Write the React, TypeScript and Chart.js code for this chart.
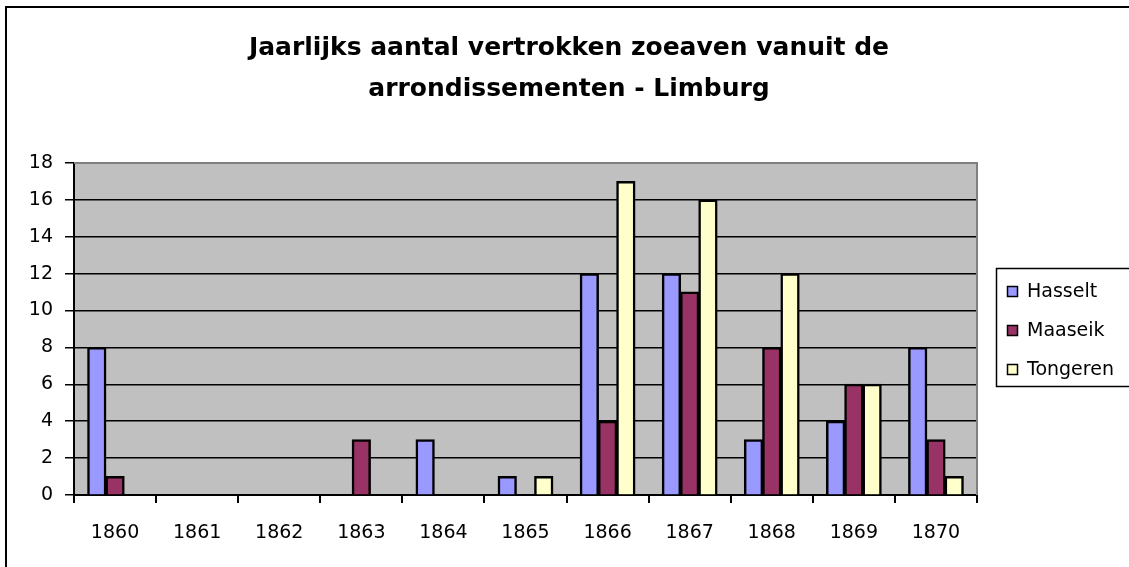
import { useEffect, useRef } from 'react';
import { Chart, registerables } from 'chart.js';

Chart.register(...registerables);

const years = ['1860', '1861', '1862', '1863', '1864', '1865', '1866', '1867', '1868', '1869', '1870'];
const hasselt = [8, 0, 0, 0, 3, 1, 12, 12, 3, 4, 8];
const maaseik = [1, 0, 0, 3, 0, 0, 4, 11, 8, 6, 3];
const tongeren = [0, 0, 0, 0, 0, 1, 17, 16, 12, 6, 1];
const seriesNames = ['Hasselt', 'Maaseik', 'Tongeren'];
const seriesColors = ['#9999FF', '#993366', '#FFFFCC'];
const titleLines = ['Jaarlijks aantal vertrokken zoeaven vanuit de', 'arrondissementen - Limburg'];
const yMin = 0;
const yMax = 18;
const yStep = 2;

const FONT = 'DejaVu Sans';

const decorPlugin = {
  id: 'decor',
  beforeDraw(chart: any) {
    const { ctx, chartArea } = chart;
    ctx.save();
    ctx.fillStyle = '#FFFFFF';
    ctx.fillRect(0, 0, chart.width, chart.height);
    ctx.fillStyle = '#C0C0C0';
    ctx.fillRect(chartArea.left, chartArea.top, chartArea.right - chartArea.left, chartArea.bottom - chartArea.top);
    // outer chart frame
    ctx.strokeStyle = '#000000';
    ctx.lineWidth = 2;
    ctx.beginPath();
    ctx.moveTo(6, chart.height + 5);
    ctx.lineTo(6, 7);
    ctx.lineTo(chart.width + 5, 7);
    ctx.stroke();
    // title
    ctx.fillStyle = '#000000';
    ctx.font = `bold 25px "${FONT}"`;
    ctx.textAlign = 'center';
    ctx.textBaseline = 'middle';
    ctx.fillText(titleLines[0], 569, 48);
    ctx.fillText(titleLines[1], 569, 89);
    ctx.restore();
  },
  beforeDatasetsDraw(chart: any) {
    const { ctx, chartArea } = chart;
    ctx.save();
    ctx.strokeStyle = '#808080';
    ctx.lineWidth = 2;
    ctx.beginPath();
    ctx.moveTo(chartArea.left, chartArea.top);
    ctx.lineTo(chartArea.right, chartArea.top);
    ctx.lineTo(chartArea.right, chartArea.bottom);
    ctx.stroke();
    ctx.restore();
  },
  afterDraw(chart: any) {
    const { ctx } = chart;
    ctx.save();
    // legend box
    ctx.strokeStyle = '#000000';
    ctx.lineWidth = 1.5;
    ctx.strokeRect(996.5, 268.5, 200, 118);
    ctx.font = `19px "${FONT}"`;
    ctx.textAlign = 'left';
    ctx.textBaseline = 'middle';
    const ys = [291, 330, 369];
    chart.data.datasets.forEach((ds: any, i: number) => {
      const y = ys[i];
      ctx.fillStyle = ds.backgroundColor;
      ctx.fillRect(1007, y - 5, 10, 10);
      ctx.strokeStyle = '#000000';
      ctx.lineWidth = 1.5;
      ctx.strokeRect(1007.5, y - 4.5, 10, 10);
      ctx.fillStyle = '#000000';
      ctx.fillText(ds.label, 1027, y + 1);
    });
    ctx.restore();
  },
};

export default function App() {
  const ref = useRef<HTMLCanvasElement | null>(null);
  useEffect(() => {
    if (!ref.current) return;
    const datasets = [hasselt, maaseik, tongeren].map((d, i) => ({
      label: seriesNames[i],
      data: d,
      backgroundColor: seriesColors[i],
      borderColor: '#000000',
      borderWidth: 2.5,
      borderSkipped: 'bottom',
      inflateAmount: 0.5,
      categoryPercentage: 0.667,
      barPercentage: 1,
    }));
    const chart = new Chart(ref.current, {
      type: 'bar',
      data: { labels: years, datasets },
      plugins: [decorPlugin],
      options: {
        animation: false,
        responsive: false,
        maintainAspectRatio: false,
        layout: { padding: { top: 163, left: 0, right: 152, bottom: 0 } },
        plugins: {
          legend: { display: false },
          title: { display: false },
          tooltip: { enabled: false },
        },
        scales: {
          x: {
            grid: {
              offset: true,
              drawOnChartArea: false,
              drawTicks: true,
              tickLength: 8,
              tickColor: '#000000',
              color: '#000000',
              lineWidth: 2,
            },
            border: { display: true, color: '#000000', width: 2 },
            ticks: {
              color: '#000000',
              font: { family: FONT, size: 19 },
              padding: 19,
              maxRotation: 0,
              autoSkip: false,
            },
            afterFit(scale: any) {
              scale.height = 72;
            },
          },
          y: {
            min: yMin,
            max: yMax,
            ticks: {
              stepSize: yStep,
              color: '#000000',
              font: { family: FONT, size: 19 },
              padding: 12,
            },
            grid: {
              color: (c: any) => (c.tick && c.tick.value === yMax ? '#808080' : '#000000'),
              lineWidth: 1.5,
              drawTicks: true,
              tickLength: 9,
              tickColor: '#000000',
            },
            border: { display: true, color: '#000000', width: 2 },
            afterFit(scale: any) {
              scale.width = 74;
            },
          },
        },
      },
    } as any);
    return () => chart.destroy();
  }, []);
  return (
    <div style={{ position: 'absolute', left: 0, top: 0, width: 1129, height: 567 }}>
      <canvas ref={ref} width={1129} height={567} style={{ width: 1129, height: 567, display: 'block' }} />
    </div>
  );
}
